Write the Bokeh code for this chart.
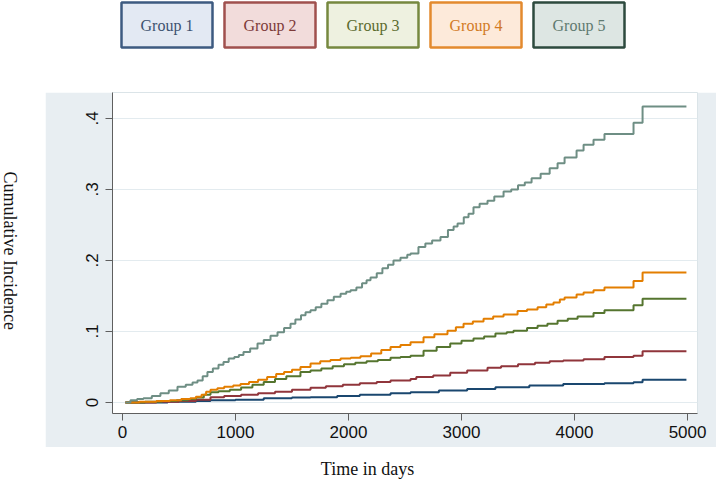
import math
from bokeh.plotting import figure
from bokeh.layouts import column, row
from bokeh.models import Range1d, FixedTicker
from bokeh.core.properties import value
from bokeh.embed import file_html
from bokeh.resources import INLINE

# ---------------- data ----------------
groups = ["Group 1", "Group 2", "Group 3", "Group 4", "Group 5"]
line_colors = ["#1a476f", "#90353b", "#55752f", "#e37e00", "#6e8e84"]
box_fill = ["#e3e9f3", "#f2dcdb", "#eef1e0", "#fdeada", "#dde6e3"]
box_line = ["#3d5a80", "#a0504e", "#76883f", "#e38a2e", "#2d4a3e"]
box_text = ["#3d5270", "#7d3a39", "#5b6b2e", "#d27a25", "#5f7a70"]

x_ticks = [0, 1000, 2000, 3000, 4000, 5000]
y_ticks = [0, 0.1, 0.2, 0.3, 0.4]
y_tick_labels = ["0", ".1", ".2", ".3", ".4"]

g1_days = [27, 400, 650, 779, 1000, 1250, 1500, 1664, 1900, 2100, 2372, 2549, 2800,
           3050, 3300, 3600, 3900, 4265, 4522, 4602, 4990]
g1_ci = [0, 0.001, 0.002, 0.003, 0.004, 0.006, 0.007, 0.0075, 0.009, 0.011, 0.013,
         0.0146, 0.017, 0.019, 0.0216, 0.024, 0.026, 0.027, 0.0286, 0.032, 0.032]

g2_days = [27, 300, 500, 650, 779, 900, 1050, 1200, 1350, 1500, 1664, 1800, 1950, 2100,
           2250, 2372, 2549, 2600, 2750, 2900, 3050, 3230, 3350, 3500, 3650, 3780, 3900,
           4080, 4265, 4522, 4602, 4990]
g2_ci = [0, 0.001, 0.002, 0.004, 0.0075, 0.009, 0.011, 0.013, 0.015, 0.018, 0.0207, 0.023,
         0.025, 0.027, 0.029, 0.031, 0.033, 0.036, 0.038, 0.042, 0.045, 0.049, 0.051, 0.054,
         0.056, 0.058, 0.059, 0.061, 0.064, 0.066, 0.072, 0.072]

g3_days = [27, 200, 350, 480, 580, 650, 720, 779, 850, 950, 1050, 1150, 1250, 1350, 1450,
           1575, 1664, 1760, 1860, 1960, 2060, 2160, 2260, 2372, 2460, 2549, 2664, 2780,
           2900, 3000, 3106, 3200, 3300, 3400, 3460, 3580, 3673, 3760, 3850, 3940, 4027,
           4168, 4265, 4522, 4602, 4990]
g3_ci = [0, 0.001, 0.002, 0.003, 0.005, 0.007, 0.011, 0.0146, 0.016, 0.018, 0.021, 0.025,
         0.029, 0.033, 0.037, 0.043, 0.045, 0.048, 0.051, 0.054, 0.056, 0.058, 0.060, 0.063,
         0.064, 0.066, 0.073, 0.078, 0.083, 0.087, 0.090, 0.093, 0.097, 0.099, 0.101, 0.105,
         0.108, 0.111, 0.115, 0.118, 0.121, 0.126, 0.130, 0.137, 0.146, 0.146]

g4_days = [27, 150, 300, 420, 520, 600, 650, 700, 740, 779, 840, 900, 980, 1044, 1120,
           1200, 1280, 1360, 1430, 1500, 1575, 1664, 1750, 1840, 1930, 2020, 2106, 2200,
           2290, 2372, 2460, 2549, 2664, 2760, 2876, 2950, 3018, 3100, 3195, 3280, 3372,
           3496, 3580, 3673, 3750, 3814, 3870, 3912, 4018, 4080, 4168, 4265, 4522, 4602, 4990]
g4_ci = [0, 0.001, 0.002, 0.003, 0.005, 0.006, 0.008, 0.011, 0.015, 0.018, 0.020, 0.022,
         0.024, 0.026, 0.029, 0.032, 0.036, 0.040, 0.043, 0.046, 0.050, 0.055, 0.058, 0.060,
         0.062, 0.063, 0.065, 0.069, 0.074, 0.078, 0.081, 0.085, 0.092, 0.096, 0.101, 0.106,
         0.111, 0.114, 0.118, 0.121, 0.124, 0.129, 0.131, 0.134, 0.138, 0.141, 0.145, 0.148,
         0.152, 0.155, 0.158, 0.162, 0.171, 0.183, 0.183]

g5_days = [27, 71, 130, 186, 260, 336, 410, 487, 560, 620, 664, 710, 752, 800, 850, 894,
           940, 990, 1030, 1071, 1130, 1195, 1250, 1310, 1372, 1430, 1487, 1530, 1580, 1620,
           1664, 1710, 1760, 1814, 1870, 1930, 1980, 2018, 2070, 2120, 2160, 2195, 2250,
           2300, 2350, 2398, 2460, 2520, 2549, 2619, 2680, 2740, 2814, 2880, 2930, 2965,
           3020, 3062, 3106, 3160, 3230, 3290, 3372, 3440, 3500, 3560, 3620, 3700, 3780,
           3850, 3912, 4018, 4080, 4168, 4265, 4522, 4602, 4990]
g5_ci = [0, 0.003, 0.005, 0.006, 0.009, 0.013, 0.017, 0.022, 0.025, 0.028, 0.031, 0.037,
         0.043, 0.048, 0.053, 0.057, 0.062, 0.064, 0.067, 0.071, 0.076, 0.083, 0.088, 0.094,
         0.099, 0.105, 0.111, 0.117, 0.123, 0.127, 0.130, 0.134, 0.139, 0.144, 0.149, 0.153,
         0.156, 0.158, 0.162, 0.168, 0.172, 0.176, 0.182, 0.189, 0.194, 0.200, 0.204, 0.208,
         0.210, 0.219, 0.224, 0.228, 0.233, 0.243, 0.248, 0.252, 0.261, 0.266, 0.275, 0.280,
         0.284, 0.290, 0.297, 0.300, 0.306, 0.310, 0.316, 0.322, 0.330, 0.337, 0.345, 0.355,
         0.363, 0.370, 0.378, 0.394, 0.417, 0.417]

series_days = [g1_days, g2_days, g3_days, g4_days, g5_days]
series_ci = [g1_ci, g2_ci, g3_ci, g4_ci, g5_ci]

x_title = "Time in days"
y_title = "Cumulative Incidence"

# ---------------- styles ----------------
GRAY = "#e8eef2"
SERIF = "Liberation Serif"
SANS = "Liberation Sans"
W = 716


def blank(width, height):
    f = figure(width=width, height=height, x_range=Range1d(0, width), y_range=Range1d(0, height),
               output_backend="svg", toolbar_location=None, min_border=0,
               border_fill_color="white", background_fill_color="white",
               outline_line_color=None)
    f.axis.visible = False
    f.grid.visible = False
    return f


# legend strip
LH = 92
leg = blank(W, LH)
bw, bh = 91, 45
lefts = [121 + i * 103 for i in range(len(groups))]
leg.quad(left=lefts, right=[l + bw for l in lefts], top=[LH - 2] * len(groups),
         bottom=[LH - 2 - bh] * len(groups), fill_color=box_fill, line_color=box_line,
         line_width=2.5)
leg.text(x=[l + bw / 2 for l in lefts], y=[LH - 2 - bh / 2] * len(groups), text=groups,
         text_color=box_text, text_font=value(SERIF), text_font_size="16px",
         text_align="center", text_baseline="middle")

# y-title strip
MH = 355
YW = 45
ylab = blank(YW, MH)
ylab.text(x=[9], y=[MH - 175], text=[y_title], angle=-math.pi / 2, text_color="#111111",
          text_font=value(SERIF), text_font_size="18px", text_align="center",
          text_baseline="middle")

# main plot
p = figure(width=W - YW, height=MH, x_range=Range1d(-88, 5088), y_range=Range1d(-0.0155, 0.4366),
           output_backend="svg", toolbar_location=None,
           min_border_left=67, min_border_right=19, min_border_top=0, min_border_bottom=34,
           border_fill_color=GRAY, background_fill_color="white", outline_line_color="#dbe4e8")

for d, v, c in zip(series_days, series_ci, line_colors):
    p.step(x=d, y=v, mode="after", line_color=c, line_width=2)

p.xaxis.ticker = FixedTicker(ticks=x_ticks)
p.yaxis.ticker = FixedTicker(ticks=y_ticks)
p.yaxis.major_label_overrides = {t: l for t, l in zip(y_ticks, y_tick_labels)}
p.yaxis.major_label_orientation = "vertical"
for ax in (p.xaxis[0], p.yaxis[0]):
    ax.axis_line_color = "#5f5f5f"
    ax.major_tick_line_color = "#5f5f5f"
    ax.major_tick_out = 7
    ax.major_tick_in = 0
    ax.minor_tick_line_color = None
    ax.major_label_text_font = SANS
    ax.major_label_text_font_size = "17px"
    ax.major_label_text_color = "#111111"
p.xaxis.major_label_standoff = 5
p.yaxis.major_label_standoff = 7
p.xgrid.visible = False
p.ygrid.grid_line_color = "#e3ebef"

# x-title strip
XH = 38
xlab = blank(W, XH)
xlab.text(x=[367], y=[XH - 21], text=[x_title], text_color="#111111",
          text_font=value(SERIF), text_font_size="18px", text_align="center",
          text_baseline="middle")

layout = column(leg, row(ylab, p, spacing=0), xlab, spacing=0)

open("out.html", "w").write(file_html(layout, INLINE))
